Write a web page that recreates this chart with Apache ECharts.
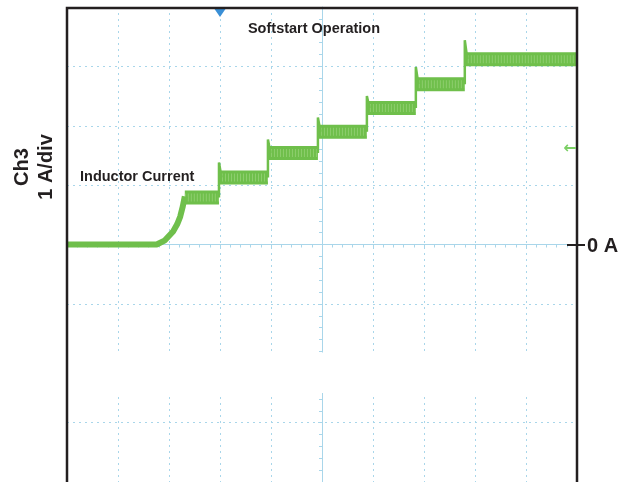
<!DOCTYPE html>
<html>
<head>
<meta charset="utf-8">
<script src="https://cdn.jsdelivr.net/npm/echarts@6/dist/echarts.min.js"></script>
<style>
html, body { margin: 0; padding: 0; background: #fff; }
#chart { width: 630px; height: 482px; }
</style>
</head>
<body>
<div id="chart"></div>
<script>
// time in divisions (10 div across, centre = 0), current in A (1 A/div)
const baseTime = [-5, -3.37, -3.24, -3.08, -2.92, -2.84, -2.78, -2.73, -2.69]
const baseCurrent = [0, 0, 0, 0.07, 0.22, 0.34, 0.47, 0.64, 0.81]
const stepStart = [-2.69, -2.02, -1.06, -0.08, 0.88, 1.84, 2.80]
const stepEnd = [-2.02, -1.06, -0.08, 0.88, 1.84, 2.80, 5]
const stepLevel = [0.79, 1.13, 1.54, 1.90, 2.30, 2.70, 3.12]
const stepSpike = [0.81, 1.38, 1.77, 2.14, 2.50, 2.99, 3.44]
const triggerTime = -2.0
const blankBand = [-2.5, -1.82]

const green = '#6fbf4b'
const gridBlue = '#a9d6ea'
const font = '"Liberation Sans", Arial, sans-serif'

const baseData = baseTime.map((t, i) => [t, baseCurrent[i]])

const bandData = []
stepStart.forEach((t, i) => {
  bandData.push([t, stepLevel[i]], [stepEnd[i], stepLevel[i]], [stepEnd[i], '-'])
})

const edgeData = []
for (let i = 1; i < stepStart.length; i++) {
  const t = stepStart[i]
  edgeData.push([t, stepLevel[i - 1]], [t, stepSpike[i]], [t + 0.05, stepLevel[i]], [t + 0.05, '-'])
}

const chart = echarts.init(document.getElementById('chart'))
chart.setOption({
  animation: false,
  grid: { left: 67, width: 510, top: 7, height: 476, show: false },
  xAxis: {
    type: 'value', min: -5, max: 5, interval: 1,
    axisLine: { onZero: true, lineStyle: { color: gridBlue, width: 1 } },
    axisTick: { show: true, length: 4, lineStyle: { color: gridBlue } },
    minorTick: { show: true, splitNumber: 5, length: 3, lineStyle: { color: gridBlue } },
    axisLabel: { show: false },
    splitLine: { show: true, lineStyle: { color: gridBlue, type: [2, 4], width: 1 } }
  },
  yAxis: {
    type: 'value', min: -4, max: 4, interval: 1,
    axisLine: { onZero: true, lineStyle: { color: gridBlue, width: 1 } },
    axisTick: { show: true, length: 4, lineStyle: { color: gridBlue } },
    minorTick: { show: true, splitNumber: 5, length: 3, lineStyle: { color: gridBlue } },
    axisLabel: { show: false },
    splitLine: { show: true, lineStyle: { color: gridBlue, type: [2, 4], width: 1 } }
  },
  series: [
    {
      name: 'band',
      type: 'line',
      data: bandData,
      symbol: 'none',
      lineStyle: { color: green, width: 14, cap: 'butt' },
      markArea: {
        silent: true,
        itemStyle: { color: '#ffffff' },
        data: [[{ coord: [-4.98, blankBand[0]] }, { coord: [4.98, blankBand[1]] }]]
      }
    },
    {
      // switching ripple texture over the band
      name: 'ripple',
      type: 'line',
      data: bandData,
      symbol: 'none',
      lineStyle: { color: '#9ad47c', width: 8, cap: 'butt', type: [1, 2], opacity: 0.7 }
    },
    {
      name: 'base',
      type: 'line',
      data: baseData,
      symbol: 'none',
      lineStyle: { color: green, width: 6 }
    },
    {
      name: 'edges',
      type: 'line',
      data: edgeData,
      symbol: 'none',
      lineStyle: { color: green, width: 2.5 },
      markPoint: {
        symbol: 'triangle',
        symbolRotate: 180,
        symbolSize: [11, 8],
        itemStyle: { color: '#3a8fd6' },
        label: { show: false },
        data: [{ coord: [triggerTime, 3.9] }]
      }
    }
  ],
  graphic: [
    // scope frame: left, top and right edges (bottom is cut off)
    { type: 'polyline', z: 90, shape: { points: [[67, 484], [67, 8], [577, 8], [577, 484]] }, style: { stroke: '#231f20', lineWidth: 2.5, fill: null } },
    { type: 'text', x: 314, y: 29, z: 100, style: { text: 'Softstart Operation', font: 'bold 14.5px ' + font, fill: '#231f20', textAlign: 'center', textVerticalAlign: 'middle' } },
    { type: 'text', x: 80, y: 177, z: 100, style: { text: 'Inductor Current', font: 'bold 14.5px ' + font, fill: '#231f20', textAlign: 'left', textVerticalAlign: 'middle' } },
    { type: 'text', x: 22.5, y: 167, rotation: Math.PI / 2, z: 100, style: { text: 'Ch3', font: 'bold 20px ' + font, fill: '#231f20', textAlign: 'center', textVerticalAlign: 'middle' } },
    { type: 'text', x: 46, y: 167, rotation: Math.PI / 2, z: 100, style: { text: '1 A/div', font: 'bold 20px ' + font, fill: '#231f20', textAlign: 'center', textVerticalAlign: 'middle' } },
    { type: 'text', x: 587, y: 246, z: 100, style: { text: '0 A', font: 'bold 20px ' + font, fill: '#231f20', textAlign: 'left', textVerticalAlign: 'middle' } },
    { type: 'line', z: 100, shape: { x1: 567, y1: 245, x2: 585, y2: 245 }, style: { stroke: '#231f20', lineWidth: 2 } },
    { type: 'text', x: 570, y: 149, z: 100, style: { text: '←', font: 'bold 16px "DejaVu Sans", sans-serif', fill: '#7ccf66', textAlign: 'center', textVerticalAlign: 'middle' } }
  ]
})
</script>
</body>
</html>
